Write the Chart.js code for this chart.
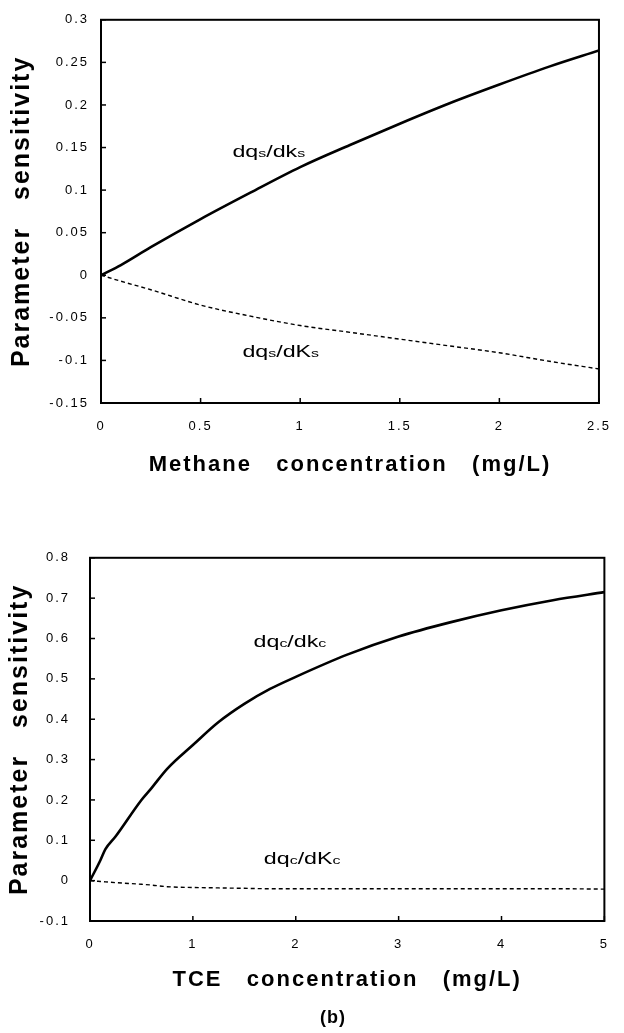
<!DOCTYPE html>
<html>
<head>
<meta charset="utf-8">
<script src="https://cdn.jsdelivr.net/npm/chart.js@4.4.1/dist/chart.umd.min.js"></script>
<style>
  html, body { margin: 0; padding: 0; background: #fff; }
  body { width: 624px; height: 1033px; position: relative; overflow: hidden;
         font-family: "Liberation Sans", Arial, sans-serif; }
  .panel { position: absolute; left: 0; width: 624px; }
  #panelA { top: 0; height: 490px; }
  #panelB { top: 530px; height: 503px; }
  #caption { position: absolute; left: 303px; top: 1006px; width: 60px; text-align: center;
             font-weight: bold; font-size: 18px; line-height: 22px; letter-spacing: 1px; }
</style>
</head>
<body>
<div class="panel" id="panelA"><canvas id="chartA"></canvas></div>
<div class="panel" id="panelB"><canvas id="chartB"></canvas></div>
<div id="caption">(b)</div>
<script>
// (a) methane
const methaneConc = [0, 0.1, 0.25, 0.5, 0.75, 1.0, 1.25, 1.5, 1.75, 2.0, 2.25, 2.5];
const dqs_dks = [0, 0.012, 0.033, 0.066, 0.097, 0.127, 0.153, 0.178, 0.202, 0.224, 0.245, 0.264];
const dqs_dKs = [0, -0.007, -0.017, -0.035, -0.048, -0.059, -0.067, -0.075, -0.083, -0.091, -0.101, -0.110];
const methaneTicksX = [0, 0.5, 1, 1.5, 2, 2.5];
const methaneTicksY = [-0.15, -0.1, -0.05, 0, 0.05, 0.1, 0.15, 0.2, 0.25, 0.3];

// (b) TCE
const tceConc = [0, 0.1, 0.15, 0.25, 0.5, 0.6, 0.75, 1, 1.25, 1.5, 1.75, 2, 2.5, 3, 3.5, 4, 4.5, 5];
const dqc_dkc = [0, 0.05, 0.078, 0.11, 0.2, 0.23, 0.277, 0.336, 0.393, 0.438, 0.475, 0.505, 0.56, 0.605, 0.64, 0.67, 0.695, 0.715];
const dqc_dKc = [0, -0.002, -0.003, -0.005, -0.009, -0.011, -0.015, -0.017, -0.018, -0.019, -0.02, -0.02, -0.02, -0.02, -0.02, -0.02, -0.02, -0.021];
const tceTicksX = [0, 1, 2, 3, 4, 5];
const tceTicksY = [-0.1, 0, 0.1, 0.2, 0.3, 0.4, 0.5, 0.6, 0.7, 0.8];

// curve labels: [text, isSubscript]
const methaneLabels = [
    { x: 0.66, y: 0.139, parts: [['dq'], ['s', true], ['/dk'], ['s', true]] },
    { x: 0.71, y: -0.096, parts: [['dq'], ['s', true], ['/dK'], ['s', true]] }
];
const tceLabels = [
    { x: 1.59, y: 0.58, parts: [['dq'], ['c', true], ['/dk'], ['c', true]] },
    { x: 1.69, y: 0.042, parts: [['dq'], ['c', true], ['/dK'], ['c', true]] }
];

const FONT = '"Liberation Sans", Arial, Helvetica, sans-serif';

// wide-set lettering for ticks and axis titles
const spacedText = {
    id: 'spacedText',
    beforeDraw(chart) { chart.ctx.letterSpacing = '2px'; },
    afterDraw(chart) { chart.ctx.letterSpacing = '0px'; }
};

// box frame with short inward tick marks
const frameTicks = {
    id: 'frameTicks',
    afterDraw(chart) {
        const { ctx, chartArea: a, scales } = chart;
        ctx.save();
        ctx.strokeStyle = '#000';
        ctx.lineWidth = 1.5;
        scales.x.ticks.forEach(t => {
            const px = scales.x.getPixelForValue(t.value);
            ctx.beginPath();
            ctx.moveTo(px, a.bottom);
            ctx.lineTo(px, a.bottom - 5);
            ctx.stroke();
        });
        scales.y.ticks.forEach(t => {
            const py = scales.y.getPixelForValue(t.value);
            ctx.beginPath();
            ctx.moveTo(a.left, py);
            ctx.lineTo(a.left + 5, py);
            ctx.stroke();
        });
        ctx.lineWidth = 2;
        ctx.strokeRect(a.left, a.top, a.right - a.left, a.bottom - a.top);
        ctx.restore();
    }
};

function curveLabels(items) {
    return {
        id: 'curveLabels',
        afterDraw(chart) {
            const { ctx, scales } = chart;
            ctx.save();
            ctx.letterSpacing = '0px';
            ctx.fillStyle = '#000';
            ctx.textBaseline = 'alphabetic';
            ctx.textAlign = 'left';
            items.forEach(item => {
                ctx.save();
                ctx.translate(scales.x.getPixelForValue(item.x), scales.y.getPixelForValue(item.y));
                ctx.scale(1.45, 1);
                let cx = 0;
                item.parts.forEach(([txt, small]) => {
                    ctx.font = (small ? 11 : 16) + 'px ' + FONT;
                    ctx.fillText(txt, cx, 0);
                    cx += ctx.measureText(txt).width;
                });
                ctx.restore();
            });
            ctx.restore();
        }
    };
}

const fmt = v => String(+Number(v).toFixed(2));

function makeChart(canvasId, cfg) {
    const series = (xs, ys) => xs.map((x, i) => ({ x: x, y: ys[i] }));
    return new Chart(document.getElementById(canvasId), {
        type: 'line',
        data: {
            datasets: [
                {
                    data: series(cfg.xs, cfg.solid),
                    borderColor: '#000', borderWidth: 2.6,
                    pointRadius: 0, cubicInterpolationMode: 'monotone'
                },
                {
                    data: series(cfg.xs, cfg.dashed),
                    borderColor: '#000', borderWidth: 1.4, borderDash: [4, 3],
                    pointRadius: 0, cubicInterpolationMode: 'monotone'
                }
            ]
        },
        options: {
            responsive: true,
            maintainAspectRatio: false,
            devicePixelRatio: 1,
            animation: false,
            events: [],
            layout: { padding: cfg.padding },
            plugins: { legend: { display: false }, tooltip: { enabled: false } },
            scales: {
                x: {
                    type: 'linear',
                    min: cfg.xTicks[0],
                    max: cfg.xTicks[cfg.xTicks.length - 1],
                    afterBuildTicks: s => { s.ticks = cfg.xTicks.map(v => ({ value: v })); },
                    afterFit: s => { s.height = cfg.xHeight; },
                    grid: { display: false, drawTicks: false },
                    border: { display: false },
                    ticks: { color: '#000', padding: 16, maxRotation: 0, font: { family: FONT, size: 13 }, callback: fmt },
                    title: {
                        display: true, text: cfg.xTitle, color: '#000',
                        font: { family: FONT, size: 22, weight: 'bold' },
                        padding: { top: 0, bottom: cfg.xTitlePad }
                    }
                },
                y: {
                    min: cfg.yTicks[0],
                    max: cfg.yTicks[cfg.yTicks.length - 1],
                    afterBuildTicks: s => { s.ticks = cfg.yTicks.map(v => ({ value: v })); },
                    afterFit: s => { s.width = cfg.yWidth; },
                    grid: { display: false, drawTicks: false },
                    border: { display: false },
                    ticks: { color: '#000', padding: cfg.yTickPad, font: { family: FONT, size: 13 }, callback: fmt },
                    title: {
                        display: true, text: 'Parameter   sensitivity', color: '#000',
                        font: { family: FONT, size: 25, weight: 'bold' },
                        padding: { top: cfg.yTitlePad, bottom: 0 }
                    }
                }
            }
        },
        plugins: [spacedText, frameTicks, curveLabels(cfg.labels)]
    });
}

makeChart('chartA', {
    xs: methaneConc, solid: dqs_dks, dashed: dqs_dKs,
    xTicks: methaneTicksX, yTicks: methaneTicksY, labels: methaneLabels,
    xTitle: 'Methane   concentration   (mg/L)',
    padding: { left: 0, right: 15, top: 16, bottom: 0 },
    xHeight: 87, yWidth: 101, xTitlePad: 12, yTitlePad: 7, yTickPad: 12
});

makeChart('chartB', {
    xs: tceConc, solid: dqc_dkc, dashed: dqc_dKc,
    xTicks: tceTicksX, yTicks: tceTicksY, labels: tceLabels,
    xTitle: 'TCE   concentration   (mg/L)',
    padding: { left: 0, right: 9, top: 25, bottom: 0 },
    xHeight: 112, yWidth: 90, xTitlePad: 40, yTitlePad: 5, yTickPad: 20
});
</script>
</body>
</html>
